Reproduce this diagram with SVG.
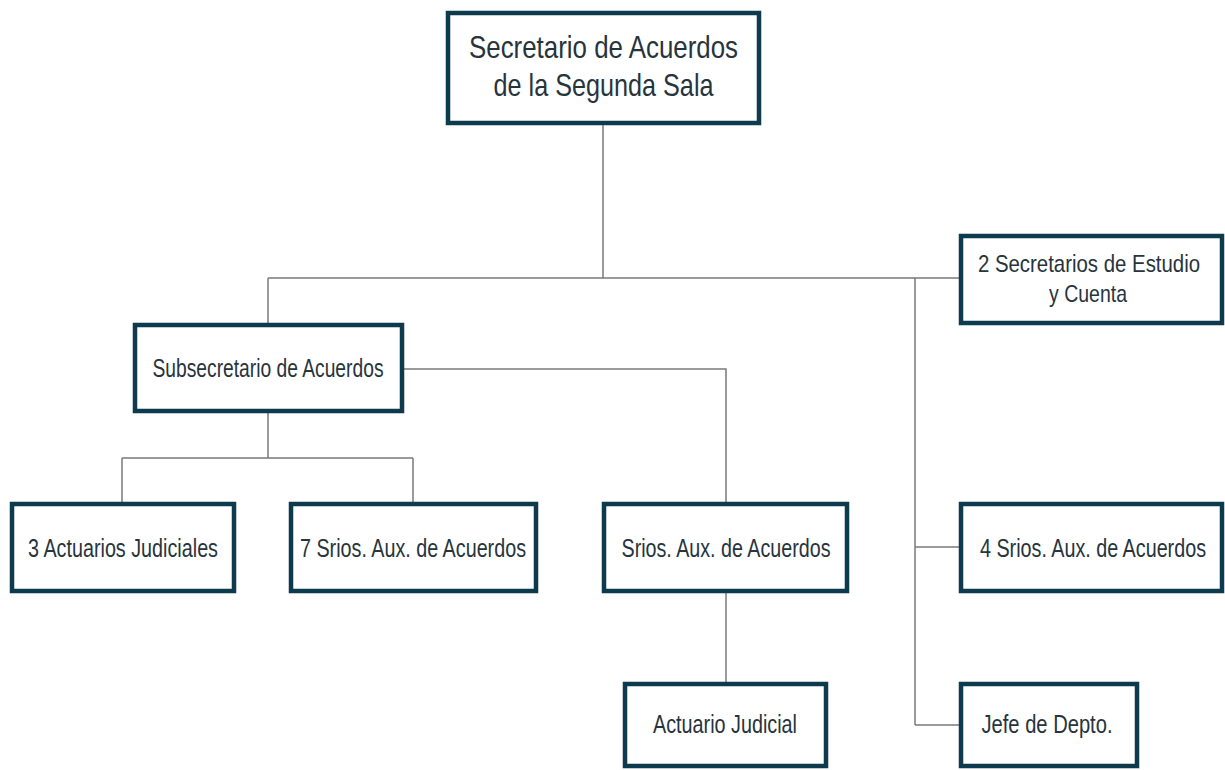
<svg xmlns="http://www.w3.org/2000/svg" width="1225" height="770" viewBox="0 0 1225 770">
<style>
.box{fill:#ffffff;stroke:#0e3a4e;stroke-width:4.5}
.t{font-family:"Liberation Sans",Arial,sans-serif;fill:#27343c;text-anchor:middle;font-size:25px}
.tt{font-size:32px}
.ts{font-size:24px}
.c{fill:none;stroke:#7a7a7a;stroke-width:1.5}
</style>
<rect width="1225" height="770" fill="#ffffff"/>
<g id="connectors">
<path class="c" d="M603,125V278M268,278H959M268,278V323"/>
<path class="c" d="M404,369H726V502"/>
<path class="c" d="M268,413V458M122,458H413M122,458V502M413,458V502"/>
<path class="c" d="M726,592V682"/>
<path class="c" d="M915,278V725M915,547H959M915,725H959"/>
</g>
<g id="n-secretario">
<rect class="box" x="448" y="13" width="311" height="110"/>
<text class="t tt" x="603.5" y="58" textLength="269" lengthAdjust="spacingAndGlyphs">Secretario de Acuerdos</text>
<text class="t tt" x="603.5" y="96" textLength="220" lengthAdjust="spacingAndGlyphs">de la Segunda Sala</text>
</g>
<g id="n-estudio">
<rect class="box" x="961" y="236" width="261" height="87"/>
<text class="t ts" transform="translate(1089,272) scale(0.85,1)">2 Secretarios de Estudio</text>
<text class="t ts" x="1088" y="302" textLength="78" lengthAdjust="spacingAndGlyphs">y Cuenta</text>
</g>
<g id="n-subsecretario">
<rect class="box" x="135" y="325" width="267" height="86"/>
<text class="t" x="268" y="377" textLength="231" lengthAdjust="spacingAndGlyphs">Subsecretario de Acuerdos</text>
</g>
<g id="n-actuarios">
<rect class="box" x="12" y="504" width="222" height="87"/>
<text class="t" x="123" y="557" textLength="190" lengthAdjust="spacingAndGlyphs">3 Actuarios Judiciales</text>
</g>
<g id="n-7srios">
<rect class="box" x="291" y="504" width="245" height="87"/>
<text class="t" x="413" y="557" textLength="226" lengthAdjust="spacingAndGlyphs">7 Srios. Aux. de Acuerdos</text>
</g>
<g id="n-srios">
<rect class="box" x="604" y="504" width="243" height="87"/>
<text class="t" x="726" y="557" textLength="209" lengthAdjust="spacingAndGlyphs">Srios. Aux. de Acuerdos</text>
</g>
<g id="n-4srios">
<rect class="box" x="961" y="504" width="261" height="87"/>
<text class="t" transform="translate(1093,557) scale(0.79,1)">4 Srios. Aux. de Acuerdos</text>
</g>
<g id="n-actuario">
<rect class="box" x="625" y="684" width="201" height="82"/>
<text class="t" x="725" y="733" textLength="144" lengthAdjust="spacingAndGlyphs">Actuario Judicial</text>
</g>
<g id="n-jefe">
<rect class="box" x="961" y="684" width="176" height="82"/>
<text class="t" x="1047" y="733" textLength="131" lengthAdjust="spacingAndGlyphs">Jefe de Depto.</text>
</g>
</svg>
